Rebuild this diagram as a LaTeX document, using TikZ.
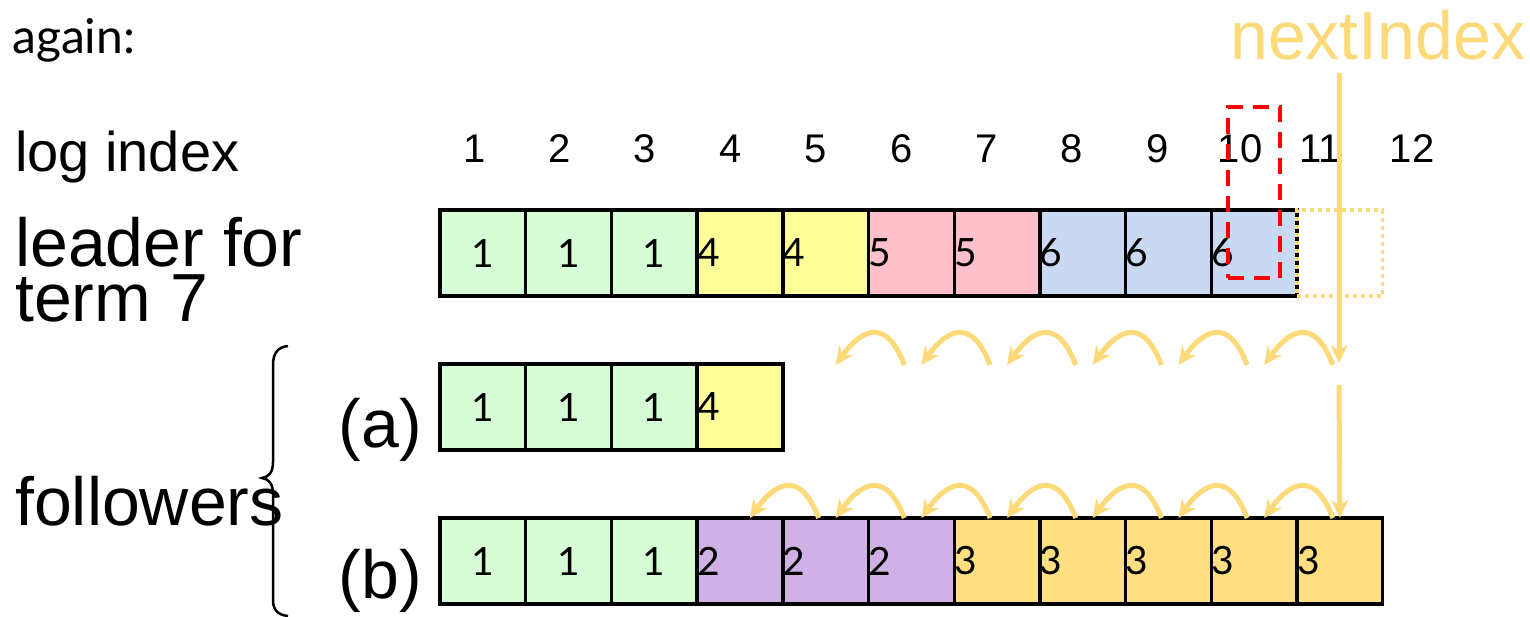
\documentclass[tikz,border=0pt]{standalone}
\usepackage{fontspec}
\setmainfont{Liberation Sans}
\newfontfamily\gill{Lato}
\usetikzlibrary{arrows.meta,calc}
\definecolor{goldline}{RGB}{252,218,122}
\definecolor{goldfill}{RGB}{255,223,130}
\definecolor{cgreen}{RGB}{214,253,214}
\definecolor{cyellow}{RGB}{255,255,153}
\definecolor{cpink}{RGB}{255,192,203}
\definecolor{cblue}{RGB}{201,217,242}
\definecolor{cpurple}{RGB}{208,177,230}
\begin{document}
\begin{tikzpicture}[x=1pt,y=-1pt,
  cell/.style={draw=black, line width=3.4pt, minimum width=85.7pt, minimum height=86pt,
    inner sep=0pt, outer sep=0pt, text width=85.7pt, font=\gill\fontsize{39}{39}\selectfont},
  big/.style={font=\fontsize{68}{55}\selectfont, inner sep=0pt},
  idx/.style={font=\fontsize{40}{40}\selectfont, inner sep=0pt, anchor=base},
  goldarrow/.style={draw=goldline, line width=5pt, -{Stealth[length=18pt,width=17pt]}},
]
\useasboundingbox (0,0) rectangle (1530,617);
\def\cw{85.7}
% texts
\node[anchor=base west, inner sep=0pt, font=\gill\fontsize{48}{48}\selectfont] (again) at (12,54) {again:};
\node[anchor=base west, inner sep=0pt, font=\fontsize{56}{56}\selectfont] (logidx) at (15,172) {log index};
\node[big, anchor=base west, align=left] (leader) at (15,322) {leader for\\term 7};
\node[big, anchor=base west] (foll) at (15,525) {followers};
\node[big, anchor=base east] (la) at (422,447) {(a)};
\node[big, anchor=base east] (lb) at (422,598) {(b)};
% index numbers
\foreach \n/\x in {1/475,2/560,3/645,4/731,5/816,6/902,7/987,8/1072,9/1158,10/1240,11/1320,12/1412}
  \node[idx] (i\n) at (\x,163) {\n};
% leader row
\foreach \k/\c/\t/\a in {1/cgreen/1/center,2/cgreen/1/center,3/cgreen/1/center,4/cyellow/4/left,5/cyellow/4/left,6/cpink/5/left,7/cpink/5/left,8/cblue/6/left,9/cblue/6/left,10/cblue/6/left}
  \node[cell, fill=\c, align=\a] (L\k) at ({440+\cw*(\k-0.5)},253) {\t};
\node[draw=goldline, line width=3.4pt, dash pattern=on 4pt off 4pt, minimum width=85.7pt,
  minimum height=86pt, inner sep=0pt, outer sep=0pt] (L11) at ({440+\cw*10.5},253) {};
% follower (a)
\foreach \k/\c/\t/\a in {1/cgreen/1/center,2/cgreen/1/center,3/cgreen/1/center,4/cyellow/4/left}
  \node[cell, fill=\c, align=\a] (A\k) at ({440+\cw*(\k-0.5)},407) {\t};
% follower (b)
\foreach \k/\c/\t/\a in {1/cgreen/1/center,2/cgreen/1/center,3/cgreen/1/center,4/cpurple/2/left,5/cpurple/2/left,6/cpurple/2/left,7/goldfill/3/left,8/goldfill/3/left,9/goldfill/3/left,10/goldfill/3/left,11/goldfill/3/left}
  \node[cell, fill=\c, align=\a] (B\k) at ({440+\cw*(\k-0.5)},561) {\t};
% red highlight
\node[draw=red, line width=4pt, dash pattern=on 16pt off 10pt, minimum width=52pt,
  minimum height=171pt, inner sep=0pt, outer sep=0pt] (hl) at (1254,192.5) {};
% nextIndex
\node[anchor=base west, inner sep=0pt, text=goldline, font=\fontsize{68}{68}\selectfont] (nxt) at (1230,60) {nextIndex};
\coordinate (vtop) at (1339,73);
\coordinate (vend) at (1339,363);
\coordinate (vrestart) at (1339,385);
\draw[goldarrow] (vtop) -- (vend);
\draw[goldarrow] (vrestart) -- (B11.north);
% arcs above follower (a)
\foreach \k [evaluate=\k as \j using int(\k-1)] in {6,...,11} {
  \coordinate (tt\k) at ($(L\k.south)+(-7,69)$);
  \coordinate (tp\k) at ($(L\j.south)+(10,69)$);
  \draw[goldarrow] (tt\k) .. controls ($(tt\k)+(-21,-55)$) and ($(tp\k)+(20,-28)$) .. (tp\k);
}
% arcs above follower (b)
\foreach \k [evaluate=\k as \j using int(\k-1)] in {5,...,11} {
  \coordinate (bt\k) at ($(B\k.north)+(-7,0)$);
  \coordinate (bp\k) at ($(B\j.north)+(10,0)$);
  \draw[goldarrow] (bt\k) .. controls ($(bt\k)+(-21,-55)$) and ($(bp\k)+(20,-28)$) .. (bp\k);
}
% brace
\draw[line width=2.5pt] (288,346) .. controls (278,347) and (273,353) .. (273,365) -- (273,462)
  .. controls (273,472) and (269,477) .. (262,478) .. controls (269,479) and (273,484) .. (273,494)
  -- (273,600) .. controls (273,610) and (278,615) .. (288,616);
\end{tikzpicture}
\end{document}
